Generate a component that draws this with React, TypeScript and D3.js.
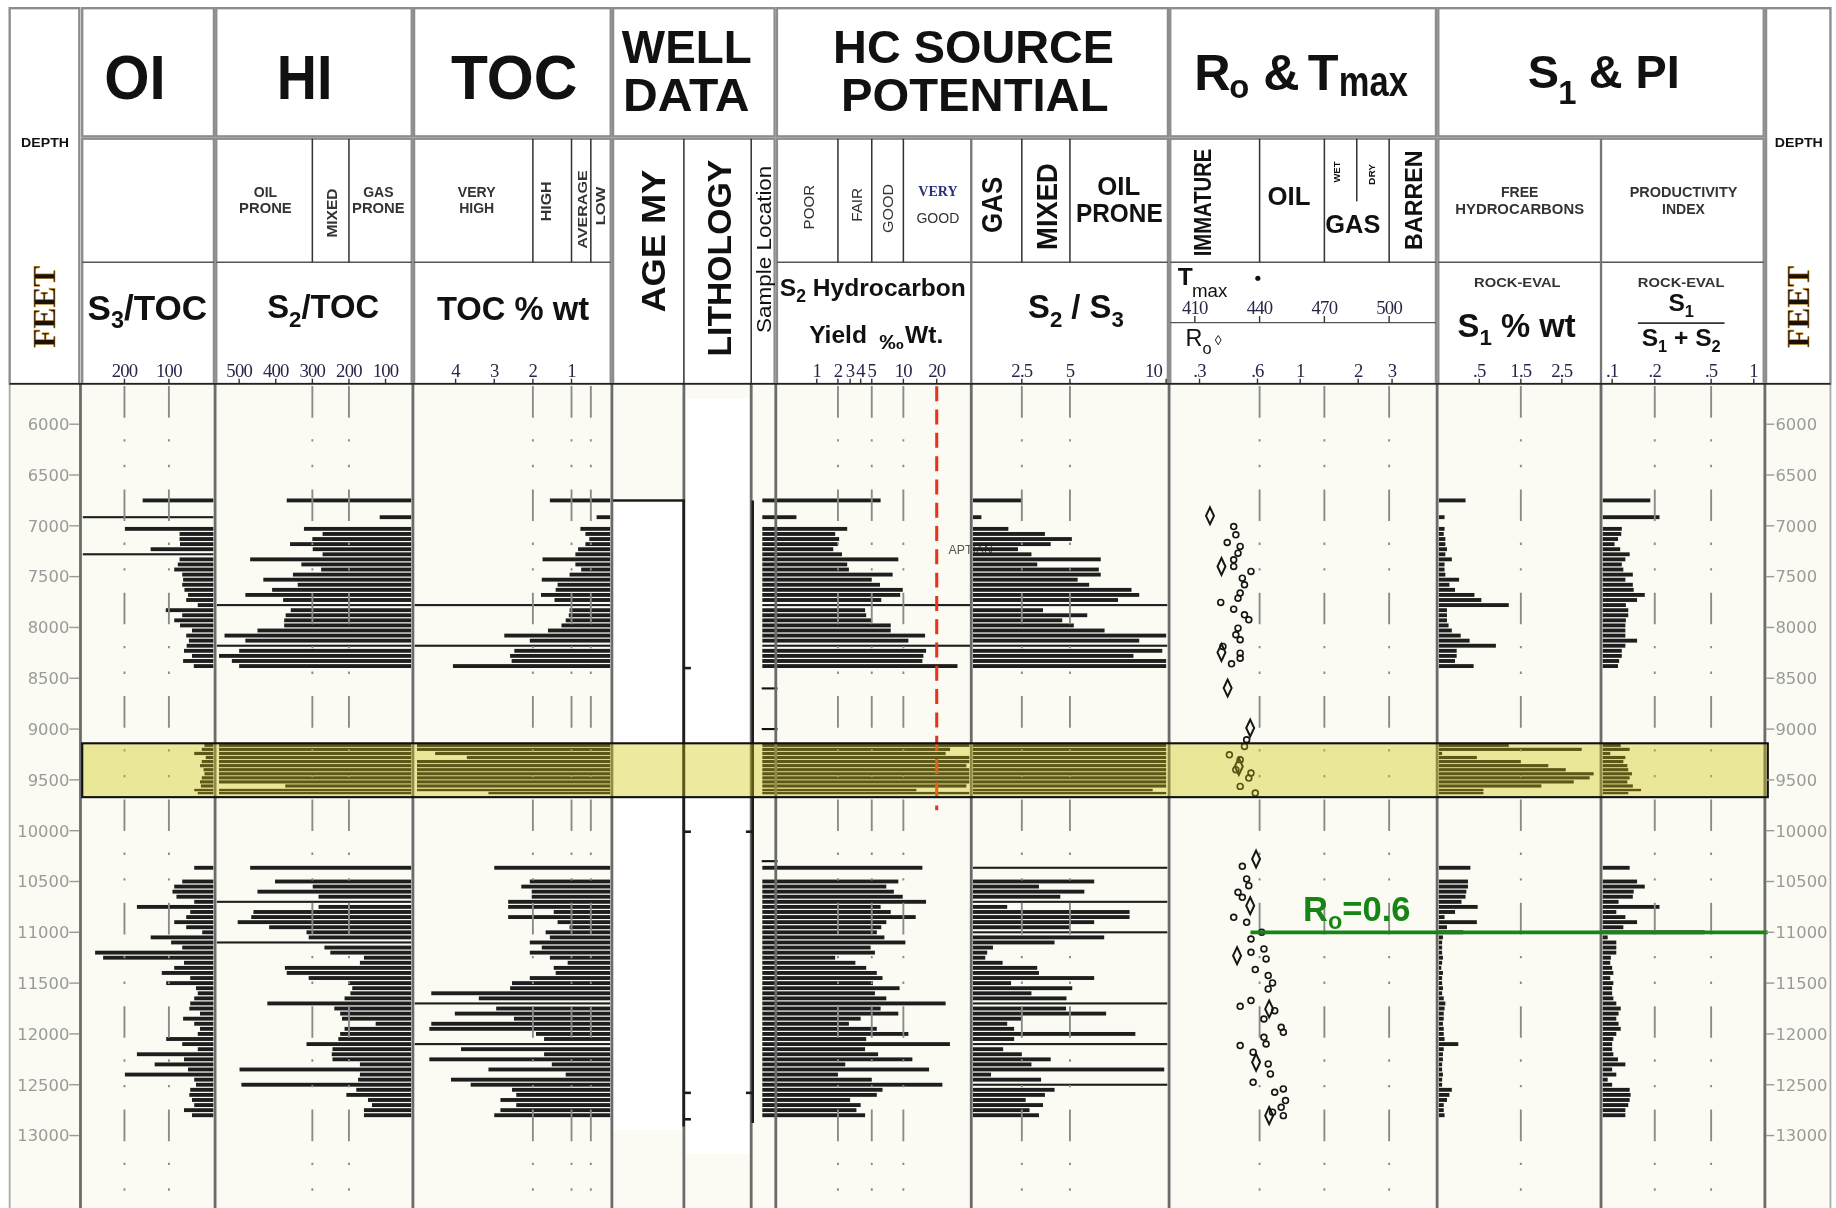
import React from "react";
import * as d3 from "d3";

const VIEW_W = 1568;
const VIEW_H = 1032;

const SANS = "'Liberation Sans', Arial, Helvetica, sans-serif";
const SERIF = "'Liberation Serif', 'Times New Roman', serif";
const DEPTH_FONT = "'DejaVu Sans', Verdana, sans-serif";
const BAR = "#1e1e1e";

// ---------- sample depths (ft) ----------
const depthsUpper = [6750, 6915, 7030, 7080, 7130, 7180, 7230, 7280, 7330, 7380, 7430, 7480, 7530, 7580, 7630, 7680, 7730, 7780, 7830, 7880, 7930, 7980, 8030, 8080, 8130, 8180, 8230, 8280, 8330, 8380];
const depthsBand = [9160, 9200, 9240, 9280, 9320, 9360, 9400, 9440, 9480, 9520, 9560, 9600, 9630];
const depthsLower = [10365, 10500, 10550, 10600, 10650, 10700, 10750, 10800, 10850, 10900, 10950, 11000, 11050, 11100, 11150, 11200, 11250, 11300, 11350, 11400, 11450, 11500, 11550, 11600, 11650, 11700, 11750, 11800, 11850, 11900, 11950, 12000, 12050, 12100, 12150, 12200, 12250, 12300, 12350, 12400, 12450, 12500, 12550, 12600, 12650, 12700, 12750, 12800];

// ---------- OI : S3/TOC ----------
const oiUpper = [159, 350, 199, 76, 76, 75, 141, 350, 76, 80, 88, 70, 68, 70, 65, 57, 61, 35, 107, 70, 88, 75, 48, 61, 55, 60, 66, 48, 68, 44];
const oiBand = [20, 26, 43, 17, 26, 30, 22, 20, 26, 30, 28, 43, 35];
const oiLower = [43, 70, 88, 92, 83, 43, 172, 52, 61, 88, 61, 25, 141, 95, 70, 266, 248, 66, 88, 116, 52, 106, 39, 35, 43, 52, 54, 30, 68, 43, 30, 35, 106, 70, 35, 172, 66, 132, 57, 199, 43, 39, 52, 54, 48, 43, 66, 48];

// ---------- HI : S2/TOC ----------
const hiUpper = [370, 116, 323, 272, 300, 361, 299, 272, 470, 330, 276, 353, 434, 340, 410, 483, 380, 650, 359, 373, 377, 377, 450, 540, 483, 650, 500, 555, 520, 500];
const hiBand = [555, 555, 555, 555, 555, 555, 555, 555, 555, 555, 374, 555, 555];
const hiLower = [470, 402, 299, 450, 283, 650, 283, 461, 467, 504, 418, 316, 310, 650, 267, 251, 159, 170, 375, 370, 310, 202, 191, 196, 212, 423, 240, 224, 219, 127, 212, 224, 229, 316, 245, 247, 245, 170, 499, 170, 175, 494, 180, 207, 148, 137, 159, 159];

// ---------- TOC % wt ----------
const tocUpper = [1.56, 0.35, 0.77, 0.64, 0.54, 0.64, 0.83, 0.9, 1.75, 0.9, 0.75, 1.05, 1.77, 1.36, 1.41, 1.79, 1.44, 6, 1.05, 1.07, 1.15, 1.26, 1.61, 2.74, 2.08, 6, 2.48, 2.59, 2.55, 4.07];
const tocBand = [5.0, 5.0, 4.53, 3.71, 5.0, 5.0, 5.0, 5.0, 5.0, 5.0, 5.0, 5.0, 3.15];
const tocLower = [3.0, 2.08, 2.3, 2.03, 2.03, 2.64, 2.64, 1.46, 2.64, 1.36, 1.05, 1.67, 1.56, 2.08, 1.77, 2.08, 1.56, 1.1, 1.46, 1.41, 2.08, 2.54, 2.59, 4.63, 3.4, 6, 2.95, 4.02, 2.49, 4.63, 4.68, 1.92, 1.71, 6, 3.86, 1.71, 4.68, 1.51, 3.15, 1.15, 4.12, 3.61, 2.54, 2.43, 2.84, 2.43, 2.84, 3.0];

// ---------- S2 hydrocarbon yield ----------
const s2Upper = [6.4, 0.72, 2.76, 1.87, 2.1, 2.0, 1.78, 2.33, 9.2, 2.76, 2.9, 8.3, 5.0, 6.3, 9.9, 9.5, 6.5, 60, 4.4, 4.5, 5.0, 8.0, 8.0, 16.5, 11.5, 60, 16.8, 16, 15.7, 34];
const s2Band = [42, 29, 26, 42, 42, 40, 42, 42, 42, 42, 40, 13.9, 42];
const s2Lower = [15.7, 9.2, 7.3, 8.5, 9.9, 16.8, 6.4, 8.0, 13.7, 7.3, 6.5, 5.8, 7.0, 10.6, 4.9, 5.5, 1.87, 3.5, 4.5, 5.8, 6.7, 5.2, 9.4, 5.5, 7.3, 26, 6.4, 9.2, 4.0, 2.9, 5.8, 11.5, 4.5, 28.9, 4.4, 6.0, 12.7, 2.6, 17.7, 2.0, 5.0, 23.8, 6.7, 5.8, 3.0, 4.0, 3.6, 4.4];

// ---------- S2 / S3 ----------
const s2s3Upper = [2.5, 0.4, 1.8, 3.7, 5.1, 4.0, 2.3, 3.0, 6.6, 3.3, 6.5, 6.6, 5.4, 6.0, 8.2, 8.6, 7.5, 12, 3.6, 5.9, 4.6, 5.2, 6.8, 10, 8.6, 12, 9.8, 8.3, 10, 10];
const s2s3Band = [10, 10, 10, 10, 10, 10, 10, 10, 10, 10, 10, 9.3, 10];
const s2s3Lower = [12, 6.26, 3.39, 5.75, 4.5, 12, 1.74, 8.1, 8.1, 6.26, 5.0, 12, 6.78, 4.2, 1.0, 0.7, 0.6, 1.5, 3.3, 3.39, 6.26, 1.94, 5.12, 3.0, 4.82, 12, 4.8, 6.88, 2.5, 1.74, 2.1, 8.4, 2.1, 12, 1.53, 2.5, 4.0, 3.0, 9.9, 0.9, 3.5, 12, 4.2, 3.7, 2.7, 3.6, 2.9, 3.39];

// ---------- S1 % wt ----------
const s1Upper = [0.33, 0.07, 0.07, 0.06, 0.08, 0.08, 0.1, 0.08, 0.16, 0.07, 0.07, 0.08, 0.25, 0.13, 0.2, 0.44, 0.55, 1.21, 0.1, 0.1, 0.1, 0.12, 0.16, 0.27, 0.38, 0.9, 0.22, 0.22, 0.2, 0.43];
const s1Band = [1.21, 3.0, 0.04, 0.47, 1.5, 2.17, 2.6, 3.3, 3.2, 2.8, 2.0, 0.6, 0.6];
const s1Lower = [0.39, 0.36, 0.36, 0.34, 0.33, 0.28, 0.48, 0.2, 0.07, 0.47, 0.1, 0.3, 0.05, 0.04, 0.04, 0.04, 0.05, 0.04, 0.03, 0.05, 0.04, 0.04, 0.05, 0.04, 0.06, 0.08, 0.07, 0.06, 0.06, 0.05, 0.06, 0.06, 0.07, 0.24, 0.06, 0.05, 0.05, 0.04, 0.04, 0.05, 0.04, 0.04, 0.16, 0.13, 0.1, 0.06, 0.06, 0.07];

// ---------- PI : S1/(S1+S2) ----------
const piUpper = [0.186, 0.216, 0.117, 0.116, 0.11, 0.104, 0.114, 0.133, 0.124, 0.117, 0.12, 0.14, 0.124, 0.14, 0.142, 0.17, 0.15, 0.125, 0.13, 0.13, 0.125, 0.124, 0.124, 0.124, 0.15, 0.124, 0.117, 0.117, 0.112, 0.11];
const piBand = [0.115, 0.133, 0.097, 0.124, 0.12, 0.128, 0.13, 0.138, 0.133, 0.128, 0.14, 0.16, 0.13];
const piLower = [0.133, 0.15, 0.17, 0.142, 0.14, 0.111, 0.216, 0.107, 0.124, 0.15, 0.12, 0.45, 0.093, 0.107, 0.107, 0.107, 0.098, 0.097, 0.1, 0.102, 0.097, 0.102, 0.1, 0.1, 0.102, 0.107, 0.115, 0.111, 0.107, 0.111, 0.115, 0.107, 0.102, 0.1, 0.1, 0.102, 0.11, 0.124, 0.1, 0.107, 0.093, 0.1, 0.133, 0.135, 0.133, 0.13, 0.124, 0.124];

// ---------- Tmax (°C) and Ro (%) ----------
const tmaxDepths = [7007, 7089, 7164, 7203, 7269, 7335, 7400, 7449, 7515, 7580, 7662, 7712, 7754, 7820, 7876, 7925, 8007, 8072, 8121, 8187, 8253, 8302, 8358,
  9105, 9171, 9253, 9302, 9400, 9433, 9482, 9564, 9630,
  10351, 10475, 10541, 10607, 10656, 10853, 10902, 11000, 11066, 11164, 11197, 11262, 11367, 11426, 11498, 11557, 11672, 11728, 11771, 11853, 11935, 11984, 12033, 12099, 12115, 12180, 12295, 12394, 12476, 12541, 12574, 12656, 12722, 12770, 12804];
const tmaxValues = [428, 429, 425, 431, 430, 428, 428, 436, 432, 433, 431, 430, 422, 428, 433, 435, 430, 429, 431, 423, 431, 431, 427,
  434, 433, 426, 431, 429, 436, 435, 431, 438,
  432, 434, 435, 430, 432, 428, 434, 441, 436, 442, 436, 443, 438, 444, 446, 444, 436, 431, 447, 442, 450, 451, 442, 443, 431, 437, 444, 445, 437, 451, 447, 452, 450, 446, 451];
const roDepths = [6902, 7400, 8246, 8597, 8990, 9368, 10279, 10738, 11230, 11754, 12279, 12804];
const roValues = [0.34, 0.39, 0.39, 0.42, 0.55, 0.48, 0.59, 0.55, 0.47, 0.69, 0.59, 0.69];

// ---------- axis ticks ----------
const depthTicks = [6000, 6500, 7000, 7500, 8000, 8500, 9000, 9500, 10000, 10500, 11000, 11500, 12000, 12500, 13000];
const oiTicks = [200, 100];
const oiTickLabels = ["200", "100"];
const hiTicks = [500, 400, 300, 200, 100];
const hiTickLabels = ["500", "400", "300", "200", "100"];
const tocTicks = [4, 3, 2, 1];
const tocTickLabels = ["4", "3", "2", "1"];
const s2Ticks = [1, 2, 3, 4, 5, 10, 20];
const s2TickLabels = ["1", "2", "3", "4", "5", "10", "20"];
const s2s3Ticks = [2.5, 5, 10];
const s2s3TickLabels = ["2.5", "5", "10"];
const tmaxTicks = [410, 440, 470, 500];
const tmaxTickLabels = ["410", "440", "470", "500"];
const roTicks = [0.3, 0.6, 1, 2, 3];
const roTickLabels = [".3", ".6", "1", "2", "3"];
const s1Ticks = [0.5, 1.5, 2.5];
const s1TickLabels = [".5", "1.5", "2.5"];
const piTicks = [0.1, 0.2, 0.5, 1];
const piTickLabels = [".1", ".2", ".5", "1"];

// class boundaries (gridlines and header dividers)
const oiGrid = [200, 100];
const hiClasses = [300, 200];
const tocClasses = [2, 1, 0.5];
const s2Classes = [2, 5, 10];
const s2s3Classes = [2.5, 5];
const tmaxClasses = [440, 470, 500];
const wetDryTmax = 485;
const s1Grid = [1.5];
const piGrid = [0.2, 0.5];

// ---------- well data ----------
const wellTop = 6750;
const ageBase = 12945;
const wellLineBase = 12910;
const lithologyTop = 5745;
const lithologyBase = 13180;
const ageBoundaries = [8400, 10010, 12580, 12840];
const lithBoundaries = [10010, 12580];
const sampleMarks = [8600, 9000, 10300];
const aptianDepth = 7240;
const aptianS2 = 28;

// ---------- annotations ----------
const bandTop = 9140;
const bandBase = 9670;
const s2Cutoff = 20;
const s2CutoffBase = 9800;
const roCutoff = 0.6;
const roCutoffDepth = 11000;

// ---------- layout ----------
const TOP = 7;
const ROW1_B = 116.5;
const ROW2_T = 118.5;
const ROW3_T = 224;
const PLOT_T = 328;
const COL: Record<string, [number, number]> = {
  depthL: [8, 67.5],
  oi: [70, 182.5],
  hi: [184.5, 351.5],
  toc: [353.5, 521.5],
  well: [523.5, 661.5],
  hc: [663.5, 997.5],
  ro: [999.5, 1226.5],
  s1pi: [1228.5, 1506.5],
  depthR: [1508.5, 1563.5],
};

function VText(props: { x: number; y: number; size: number; len?: number; weight?: string; fill?: string; family?: string; children: React.ReactNode }) {
  const { x, y, size, len, weight = "bold", fill = "#111", family = SANS, children } = props;
  return (
    <text
      transform={`translate(${x},${y}) rotate(-90)`}
      textAnchor="middle"
      dominantBaseline="central"
      fontFamily={family}
      fontSize={size}
      fontWeight={weight}
      fill={fill}
      textLength={len}
      lengthAdjust={len ? "spacingAndGlyphs" : undefined}
    >
      {children}
    </text>
  );
}

function HText(props: { x: number; y: number; size: number; len?: number; weight?: string; fill?: string; family?: string; anchor?: string; children: React.ReactNode }) {
  const { x, y, size, len, weight = "bold", fill = "#111", family = SANS, anchor = "middle", children } = props;
  return (
    <text
      x={x}
      y={y}
      textAnchor={anchor as any}
      fontFamily={family}
      fontSize={size}
      fontWeight={weight}
      fill={fill}
      textLength={len}
      lengthAdjust={len ? "spacingAndGlyphs" : undefined}
    >
      {children}
    </text>
  );
}

type Track = {
  key: string;
  scale: (v: number) => number;
  side: "left" | "right";
  start: number;
  end: number;
  max: number;
  values: number[];
};

export default function App() {
  const y = d3.scaleLinear().domain([6000, 13000]).range([362.4, 970.1]);

  const xOI = d3.scaleLinear().domain([0, 295]).range([182, 70]);
  const xHI = d3.scaleLinear().domain([30, 561]).range([351, 185]);
  const xTOC = d3.scaleLinear().domain([0, 5.06]).range([521, 354]);
  const xS2 = d3.scaleLinear().domain([0.25, 1, 2, 3, 4, 5, 10, 20, 50]).range([651, 697.5, 715.6, 726, 735, 744.5, 771.5, 800, 838]);
  const xS2S3 = d3.scaleLinear().domain([0, 10]).range([831.6, 996]);
  const xTmax = d3.scaleLinear().domain([410, 500]).range([1020.5, 1186.5]);
  const xRo = d3.scaleLog().domain([0.3, 3]).range([1024.5, 1189]);
  const xS1 = d3.scaleLinear().domain([0, 0.5, 1.5, 2.5, 3.5]).range([1229, 1263.5, 1299, 1334, 1368]);
  const xPI = d3.scaleLog().domain([0.1, 1]).range([1377, 1498]);

  const depths = [...depthsUpper, ...depthsBand, ...depthsLower];
  const thick = depths.map((d, i) => {
    const gaps: number[] = [];
    if (i > 0) gaps.push(Math.abs(y(d) - y(depths[i - 1])));
    if (i < depths.length - 1) gaps.push(Math.abs(y(depths[i + 1]) - y(d)));
    return Math.min(3.3, 0.78 * Math.min(...gaps));
  });

  const tracks: Track[] = [
    { key: "oi", scale: xOI, side: "right", start: 70.5, end: 182, max: 295, values: [...oiUpper, ...oiBand, ...oiLower] },
    { key: "hi", scale: xHI, side: "right", start: 185, end: 351, max: 561, values: [...hiUpper, ...hiBand, ...hiLower] },
    { key: "toc", scale: xTOC, side: "right", start: 354, end: 521, max: 5.06, values: [...tocUpper, ...tocBand, ...tocLower] },
    { key: "s2", scale: xS2, side: "left", start: 651, end: 829, max: xS2.invert(829), values: [...s2Upper, ...s2Band, ...s2Lower] },
    { key: "s2s3", scale: xS2S3, side: "left", start: 831, end: 997, max: xS2S3.invert(997), values: [...s2s3Upper, ...s2s3Band, ...s2s3Lower] },
    { key: "s1", scale: xS1, side: "left", start: 1229, end: 1367, max: xS1.invert(1367), values: [...s1Upper, ...s1Band, ...s1Lower] },
    { key: "pi", scale: xPI, side: "left", start: 1369, end: 1506, max: xPI.invert(1506), values: [...piUpper, ...piBand, ...piLower] },
  ];

  const gridXs = [
    ...oiGrid.map((v) => xOI(v)),
    ...hiClasses.map((v) => xHI(v)),
    ...tocClasses.map((v) => xTOC(v)),
    ...s2Classes.map((v) => xS2(v)),
    ...s2s3Classes.map((v) => xS2S3(v)),
    ...tmaxClasses.map((v) => xTmax(v)),
    ...s1Grid.map((v) => xS1(v)),
    ...piGrid.map((v) => xPI(v)),
  ];

  const axes = [
    { key: "oi", scale: xOI, ticks: oiTicks, labels: oiTickLabels, right: COL.oi[1], base: 322 },
    { key: "hi", scale: xHI, ticks: hiTicks, labels: hiTickLabels, right: COL.hi[1], base: 322 },
    { key: "toc", scale: xTOC, ticks: tocTicks, labels: tocTickLabels, right: COL.toc[1], base: 322 },
    { key: "s2", scale: xS2, ticks: s2Ticks, labels: s2TickLabels, right: 829, base: 322 },
    { key: "s2s3", scale: xS2S3, ticks: s2s3Ticks, labels: s2s3TickLabels, right: COL.hc[1], base: 322 },
    { key: "tmax", scale: xTmax, ticks: tmaxTicks, labels: tmaxTickLabels, right: COL.ro[1], base: 268.5 },
    { key: "ro", scale: xRo, ticks: roTicks, labels: roTickLabels, right: COL.ro[1], base: 322 },
    { key: "s1", scale: xS1, ticks: s1Ticks, labels: s1TickLabels, right: 1367, base: 322 },
    { key: "pi", scale: xPI, ticks: piTicks, labels: piTickLabels, right: COL.s1pi[1], base: 322 },
  ];

  const mainCols = ["oi", "hi", "toc", "well", "hc", "ro", "s1pi"];
  const row3Cols = ["oi", "hi", "toc", "hc", "ro", "s1pi"];
  const plotSeparators = [68.5, 183.5, 352.5, 522.5, 584, 641.5, 662.5, 829.5, 998.5, 1227.5, 1367.5, 1507.5];

  const bandX0 = COL.oi[0];
  const bandX1 = COL.depthR[0] + 1.5;
  const bandY0 = y(bandTop);
  const bandY1 = y(bandBase);

  const diamond = (cx: number, cy: number) => `M${cx},${cy - 7.2}L${cx + 3.4},${cy}L${cx},${cy + 7.2}L${cx - 3.4},${cy}Z`;

  return (
    <svg
      width={1836}
      height={1208}
      viewBox={`0 0 ${VIEW_W} ${VIEW_H}`}
      style={{ position: "absolute", left: 0, top: 0, background: "#fff" }}
    >
      <rect x={0} y={0} width={VIEW_W} height={VIEW_H} fill="#fff" />

      {/* ---------- header frames ---------- */}
      <g fill="#fff" stroke="#8c8c8c" strokeWidth={2}>
        {mainCols.map((k) => (
          <g key={k}>
            <rect x={COL[k][0]} y={TOP} width={COL[k][1] - COL[k][0]} height={ROW1_B - TOP} />
            <rect x={COL[k][0]} y={ROW2_T} width={COL[k][1] - COL[k][0]} height={PLOT_T - ROW2_T} />
          </g>
        ))}
        <rect x={COL.depthL[0]} y={TOP} width={COL.depthL[1] - COL.depthL[0]} height={PLOT_T - TOP} />
        <rect x={COL.depthR[0]} y={TOP} width={COL.depthR[1] - COL.depthR[0]} height={PLOT_T - TOP} />
      </g>
      <g stroke="#555" strokeWidth={1.2}>
        {row3Cols.map((k) => (
          <line key={k} x1={COL[k][0]} x2={COL[k][1]} y1={ROW3_T} y2={ROW3_T} />
        ))}
        <line x1={COL.ro[0]} x2={COL.ro[1]} y1={275.6} y2={275.6} />
      </g>
      {/* header class dividers */}
      <g stroke="#333" strokeWidth={1.3}>
        {hiClasses.map((v) => <line key={"h" + v} x1={xHI(v)} x2={xHI(v)} y1={ROW2_T} y2={ROW3_T} />)}
        {tocClasses.map((v) => <line key={"t" + v} x1={xTOC(v)} x2={xTOC(v)} y1={ROW2_T} y2={ROW3_T} />)}
        {s2Classes.map((v) => <line key={"s" + v} x1={xS2(v)} x2={xS2(v)} y1={ROW2_T} y2={ROW3_T} />)}
        {s2s3Classes.map((v) => <line key={"r" + v} x1={xS2S3(v)} x2={xS2S3(v)} y1={ROW2_T} y2={ROW3_T} />)}
        {tmaxClasses.map((v) => <line key={"m" + v} x1={xTmax(v)} x2={xTmax(v)} y1={ROW2_T} y2={ROW3_T} />)}
        <line x1={xTmax(wetDryTmax)} x2={xTmax(wetDryTmax)} y1={ROW2_T} y2={172} />
        <line x1={584} x2={584} y1={ROW2_T} y2={PLOT_T} />
        <line x1={641.5} x2={641.5} y1={ROW2_T} y2={PLOT_T} />
      </g>
      <g stroke="#777" strokeWidth={2}>
        <line x1={829.5} x2={829.5} y1={ROW2_T} y2={PLOT_T} />
        <line x1={1367.5} x2={1367.5} y1={ROW2_T} y2={PLOT_T} />
      </g>

      {/* ---------- row 1 titles ---------- */}
      <HText x={115} y={85} size={54} len={52.5}>OI</HText>
      <HText x={260} y={85} size={54} len={47.5}>HI</HText>
      <HText x={439} y={85} size={54} len={108}>TOC</HText>
      <HText x={586.5} y={54} size={40} len={111}>WELL</HText>
      <HText x={586} y={94.5} size={40} len={108}>DATA</HText>
      <HText x={831.5} y={54} size={40} len={240}>HC SOURCE</HText>
      <HText x={832.5} y={94.5} size={40} len={228.5}>POTENTIAL</HText>
      <HText x={1020} y={77} size={43} anchor="start">R</HText>
      <HText x={1050} y={84} size={28} anchor="start">o</HText>
      <HText x={1079} y={77} size={43} anchor="start">&amp;</HText>
      <HText x={1117} y={77} size={43} anchor="start">T</HText>
      <HText x={1143.5} y={82} size={36} anchor="start" len={59}>max</HText>
      <HText x={1305} y={75} size={40} anchor="start">S</HText>
      <HText x={1331} y={89} size={28} anchor="start">1</HText>
      <HText x={1357} y={75} size={40} anchor="start">&amp; PI</HText>

      {/* depth column headers */}
      {[COL.depthL, COL.depthR].map((c, i) => (
        <g key={"dh" + i}>
          <HText x={(c[0] + c[1]) / 2 + 0.5} y={126} size={11.5} len={41}>DEPTH</HText>
          <text
            transform={`translate(${(c[0] + c[1]) / 2},262) rotate(-90)`}
            textAnchor="middle"
            dominantBaseline="central"
            fontFamily={SERIF}
            fontWeight="bold"
            fontSize={27}
            fill="#1a1208"
            stroke="#c9861e"
            strokeWidth={0.5}
            textLength={70}
            lengthAdjust="spacingAndGlyphs"
          >
            FEET
          </text>
        </g>
      ))}

      {/* ---------- row 2 class labels ---------- */}
      <g fill="#333">
        <HText x={226.5} y={168} size={12} fill="#333">OIL</HText>
        <HText x={226.5} y={182} size={12} fill="#333" len={45}>PRONE</HText>
        <VText x={283} y={182} size={12.5} fill="#333" len={42}>MIXED</VText>
        <HText x={323} y={168} size={12} fill="#333">GAS</HText>
        <HText x={323} y={182} size={12} fill="#333" len={45}>PRONE</HText>
        <HText x={407} y={168} size={12} fill="#333">VERY</HText>
        <HText x={407} y={182} size={12} fill="#333">HIGH</HText>
        <VText x={466} y={172} size={12} fill="#333" len={34}>HIGH</VText>
        <VText x={497.5} y={179} size={11.5} fill="#333" len={67}>AVERAGE</VText>
        <VText x={513} y={176} size={11} fill="#333" len={33}>LOW</VText>
      </g>
      <VText x={558} y={206} size={28} len={122}>AGE  MY</VText>
      <VText x={614} y={220.6} size={28} len={168}>LITHOLOGY</VText>
      <VText x={652} y={213} size={17.5} weight="normal" len={143}>Sample Location</VText>

      <VText x={690.5} y={177} size={12.5} weight="normal" fill="#333" len={38}>POOR</VText>
      <VText x={731.6} y={175} size={12.5} weight="normal" fill="#333" len={29}>FAIR</VText>
      <VText x={758.3} y={178} size={12.5} weight="normal" fill="#333" len={42}>GOOD</VText>
      <HText x={801} y={167.5} size={12} family={SERIF} fill="#27307a">VERY</HText>
      <HText x={801} y={190.5} size={12} weight="normal" fill="#333">GOOD</HText>
      <VText x={847} y={175} size={25} len={48}>GAS</VText>
      <VText x={894} y={176.5} size={25} len={74}>MIXED</VText>
      <HText x={955.5} y={167} size={22}>OIL</HText>
      <HText x={956} y={190} size={22} len={74}>PRONE</HText>

      <VText x={1027.4} y={173} size={21} len={92}>IMMATURE</VText>
      <HText x={1101} y={175.5} size={22}>OIL</HText>
      <VText x={1141.6} y={147} size={8.5} len={18}>WET</VText>
      <VText x={1171} y={149} size={8.5} len={18}>DRY</VText>
      <HText x={1155.5} y={199} size={22} len={47}>GAS</HText>
      <VText x={1208} y={171} size={20} len={85}>BARREN</VText>

      <HText x={1298} y={168} size={12} fill="#333">FREE</HText>
      <HText x={1298} y={182.5} size={12} fill="#333" len={110}>HYDROCARBONS</HText>
      <HText x={1438} y={168} size={12} fill="#333" len={92}>PRODUCTIVITY</HText>
      <HText x={1438} y={182.5} size={12} fill="#333">INDEX</HText>

      {/* ---------- row 3 parameter labels ---------- */}
      <text x={74.5} y={273} fontFamily={SANS} fontWeight="bold" fontSize={30} fill="#111">
        S<tspan fontSize={20} dy={7}>3</tspan>
        <tspan dy={-7}>/TOC</tspan>
      </text>
      <text x={228} y={272} fontFamily={SANS} fontWeight="bold" fontSize={28} fill="#111">
        S<tspan fontSize={19} dy={7}>2</tspan>
        <tspan dy={-7}>/TOC</tspan>
      </text>
      <HText x={373} y={273} size={28} anchor="start" len={130}>TOC % wt</HText>
      <text x={666} y={253} fontFamily={SANS} fontWeight="bold" fontSize={21} fill="#111">
        S<tspan fontSize={15} dy={5}>2</tspan>
        <tspan dy={-5}> Hydrocarbon</tspan>
      </text>
      <HText x={691} y={293} size={21} anchor="start">Yield</HText>
      <HText x={751} y={298} size={17} anchor="start" len={21}>‰</HText>
      <HText x={773} y={293} size={21} anchor="start">Wt.</HText>
      <text x={878} y={272} fontFamily={SANS} fontWeight="bold" fontSize={28} fill="#111">
        S<tspan fontSize={19} dy={7}>2</tspan>
        <tspan dy={-7}> / S</tspan>
        <tspan fontSize={19} dy={7}>3</tspan>
      </text>
      <HText x={1006} y={243.5} size={21} anchor="start">T</HText>
      <HText x={1018} y={253.5} size={16} anchor="start" weight="normal">max</HText>
      <circle cx={xTmax(440) - 1.5} cy={237.7} r={2.2} fill="#111" />
      <HText x={1012.5} y={296} size={20} anchor="start" weight="normal">R</HText>
      <HText x={1027} y={302} size={14} anchor="start" weight="normal">o</HText>
      <HText x={1037.5} y={295} size={12} anchor="start" weight="normal">◊</HText>

      <HText x={1296} y={245.5} size={11.5} fill="#333" len={74}>ROCK-EVAL</HText>
      <text x={1245} y={288} fontFamily={SANS} fontWeight="bold" fontSize={28} fill="#111">
        S<tspan fontSize={19} dy={7}>1</tspan>
        <tspan dy={-7}> % wt</tspan>
      </text>
      <HText x={1436} y={245.5} size={11.5} fill="#333" len={74}>ROCK-EVAL</HText>
      <text x={1436} y={266} textAnchor="middle" fontFamily={SANS} fontWeight="bold" fontSize={21} fill="#111">
        S<tspan fontSize={14} dy={5}>1</tspan>
      </text>
      <line x1={1399} x2={1473} y1={276} y2={276} stroke="#333" strokeWidth={1.4} />
      <text x={1436} y={296} textAnchor="middle" fontFamily={SANS} fontWeight="bold" fontSize={21} fill="#111">
        S<tspan fontSize={14} dy={5}>1</tspan>
        <tspan dy={-5}> + S</tspan>
        <tspan fontSize={14} dy={5}>2</tspan>
      </text>

      {/* axis tick labels */}
      {axes.map((a) =>
        a.ticks.map((t, i) => {
          const x = a.scale(t);
          const atEdge = x > a.right - 9;
          return (
            <g key={a.key + t}>
              <text
                x={atEdge ? a.right - 5 : x}
                y={a.base}
                textAnchor={atEdge ? "end" : "middle"}
                fontFamily={SERIF}
                fontSize={16}
                letterSpacing={-0.7}
                fill="#26264a"
              >
                {a.labels[i]}
              </text>
              <line x1={x} x2={x} y1={a.base + 1.5} y2={a.base + 7} stroke="#333" strokeWidth={1.2} />
            </g>
          );
        })
      )}

      {/* ---------- plot area ---------- */}
      <rect x={8} y={PLOT_T} width={1555.5} height={VIEW_H - PLOT_T} fill="#fbfbf4" />

      {/* well data */}
      <rect x={523.5} y={y(wellTop)} width={59.5} height={y(ageBase) - y(wellTop)} fill="#fff" />
      <rect x={585.5} y={y(lithologyTop)} width={55.5} height={y(lithologyBase) - y(lithologyTop)} fill="#fff" />

      <text x={xS2(aptianS2)} y={y(aptianDepth) + 3.5} fontFamily={SANS} fontSize={10.5} fill="#555">APTIAN</text>

      {/* bars */}
      {tracks.map((t) => (
        <g key={t.key} fill={BAR}>
          {depths.map((d, i) => {
            const v = t.values[i];
            const cy = y(d);
            if (v > t.max) {
              return <rect key={i} x={t.start} y={cy - 0.9} width={t.end - t.start} height={1.8} />;
            }
            const xv = t.scale(v);
            const x0 = t.side === "right" ? xv : t.start;
            const x1 = t.side === "right" ? t.end : xv;
            return <rect key={i} x={x0} y={cy - thick[i] / 2} width={Math.max(0, x1 - x0)} height={thick[i]} />;
          })}
        </g>
      ))}

      {/* sample location marks */}
      {sampleMarks.map((d) => (
        <rect key={d} x={650.5} y={y(d) - 0.9} width={13.5} height={1.8} fill="#111" />
      ))}

      {/* dashed class gridlines */}
      <g stroke="#8a8a8a" strokeWidth={1.6} strokeDasharray="27 18.4 2 19.9 2 19">
        {gridXs.map((x, i) => (
          <line key={i} x1={x} x2={x} y1={PLOT_T + 1.8} y2={VIEW_H} />
        ))}
      </g>

      {/* Tmax and Ro samples */}
      <g fill="none" stroke="#151515">
        {tmaxDepths.map((d, i) => (
          <circle key={"t" + i} cx={xTmax(tmaxValues[i])} cy={y(d)} r={2.5} strokeWidth={1.4} />
        ))}
        {roDepths.map((d, i) => (
          <path key={"r" + i} d={diamond(xRo(roValues[i]), y(d))} strokeWidth={1.7} />
        ))}
      </g>

      {/* S2 = 20 cut-off */}
      <line
        x1={xS2(s2Cutoff)}
        x2={xS2(s2Cutoff)}
        y1={PLOT_T + 2}
        y2={y(s2CutoffBase)}
        stroke="#e8321e"
        strokeWidth={2.6}
        strokeDasharray="12.8 7.1"
      />

      {/* column separators */}
      <g stroke="#6b6b6b" strokeWidth={2.4}>
        {plotSeparators.map((x) => (
          <line key={x} x1={x} x2={x} y1={PLOT_T} y2={VIEW_H} />
        ))}
      </g>
      <g stroke="#a8a8a8" strokeWidth={1.5}>
        <line x1={8} x2={8} y1={PLOT_T} y2={VIEW_H} />
        <line x1={1563.5} x2={1563.5} y1={PLOT_T} y2={VIEW_H} />
      </g>

      {/* well boundaries */}
      <g stroke="#1c1c1c" strokeWidth={2.2}>
        <line x1={523.5} x2={585} y1={y(wellTop)} y2={y(wellTop)} />
        <line x1={583.8} x2={583.8} y1={y(wellTop)} y2={y(wellLineBase)} />
        <line x1={642.8} x2={642.8} y1={y(wellTop)} y2={y(wellLineBase) - 3} />
        {ageBoundaries.map((d) => (
          <line key={"a" + d} x1={583.8} x2={590} y1={y(d)} y2={y(d)} />
        ))}
        {lithBoundaries.map((d) => (
          <line key={"l" + d} x1={637} x2={642.8} y1={y(d)} y2={y(d)} />
        ))}
      </g>

      {/* highlighted interval */}
      <rect x={bandX0} y={bandY0} width={bandX1 - bandX0} height={bandY1 - bandY0} fill="rgb(230,226,158)" style={{ mixBlendMode: "multiply" }} />
      <rect x={bandX0} y={bandY0} width={bandX1 - bandX0} height={bandY1 - bandY0} fill="rgb(75,68,5)" style={{ mixBlendMode: "screen" }} />
      <rect x={bandX0} y={bandY0} width={bandX1 - bandX0} height={bandY1 - bandY0} fill="none" stroke="#111" strokeWidth={1.8} />

      {/* Ro = 0.6 level */}
      <line
        x1={xRo(roCutoff) - 6}
        x2={bandX1}
        y1={y(roCutoffDepth)}
        y2={y(roCutoffDepth)}
        stroke="#168516"
        strokeWidth={3.2}
      />
      <text x={1113} y={787} fontFamily={SANS} fontWeight="bold" fontSize={29.5} fill="#168516">
        R<tspan fontSize={20} dy={7}>o</tspan>
        <tspan dy={-7}>=0.6</tspan>
      </text>

      {/* depth scales */}
      {depthTicks.map((d) => (
        <g key={d} fill="#9a9a9a" fontFamily={DEPTH_FONT} fontSize={14}>
          <text x={59} y={y(d) + 5} textAnchor="end">{d}</text>
          <line x1={59} x2={67.5} y1={y(d)} y2={y(d)} stroke="#9a9a9a" strokeWidth={1.2} />
          <line x1={1508.5} x2={1515.5} y1={y(d)} y2={y(d)} stroke="#9a9a9a" strokeWidth={1.2} />
          <text x={1516.5} y={y(d) + 5} textAnchor="start">{d}</text>
        </g>
      ))}

      {/* top of plot */}
      <line x1={8} x2={1563.5} y1={PLOT_T} y2={PLOT_T} stroke="#222" strokeWidth={1.6} />
    </svg>
  );
}
